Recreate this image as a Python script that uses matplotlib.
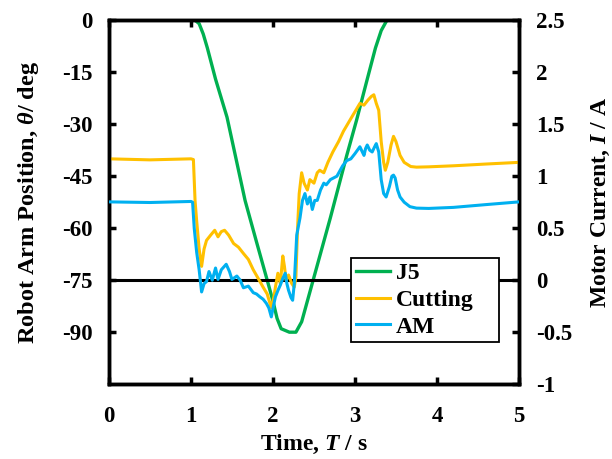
import matplotlib
matplotlib.use("Agg")
import matplotlib.pyplot as plt
from matplotlib.ticker import FuncFormatter

plt.rcParams['font.family'] = ['Liberation Serif', 'DejaVu Serif']
plt.rcParams['font.weight'] = 'bold'
plt.rcParams['axes.unicode_minus'] = False
plt.rcParams['mathtext.fontset'] = 'custom'
plt.rcParams['mathtext.it'] = 'Liberation Serif:italic:bold'
plt.rcParams['mathtext.rm'] = 'Liberation Serif:bold'

# J5 joint position (deg)
j5_t = [0, 1.05, 1.10, 1.15, 1.20, 1.30, 1.44, 1.66, 1.80, 1.93, 2.00, 2.05, 2.10,
        2.20, 2.28, 2.35, 2.49, 2.70, 2.90, 3.02, 3.15, 3.25, 3.32, 3.39, 5.0]
j5_deg = [0, 0, -1, -4, -8, -17, -28, -52, -64, -75, -81, -86, -89,
          -90, -90, -87, -75, -57, -39, -28.8, -17, -8, -3, 0, 0]

# Cutting motor current (A)
cut_t = [0, 0.5, 1.0, 1.03, 1.05, 1.07, 1.10, 1.13, 1.16, 1.19,
         1.24, 1.29, 1.33, 1.37, 1.41, 1.46, 1.52, 1.58, 1.64, 1.70,
         1.76, 1.82, 1.88, 1.93, 1.98, 2.01, 2.03, 2.06, 2.09, 2.12,
         2.14, 2.16, 2.19, 2.23, 2.26, 2.28, 2.30, 2.32, 2.35, 2.38,
         2.42, 2.45, 2.50, 2.54, 2.57, 2.62, 2.67, 2.73, 2.80, 2.86,
         2.91, 2.96, 3.01, 3.06, 3.11, 3.16, 3.20, 3.23, 3.26, 3.29,
         3.32, 3.35, 3.37, 3.40, 3.44, 3.47, 3.50, 3.55, 3.60, 3.68,
         3.75, 3.90, 4.20, 4.60, 5.0]
cut_amp = [1.167, 1.157, 1.167, 1.160, 0.767, 0.567, 0.300, 0.133, 0.300, 0.383,
           0.433, 0.480, 0.417, 0.467, 0.480, 0.433, 0.353, 0.317, 0.257, 0.200,
           0.100, 0.017, -0.067, -0.133, -0.267, -0.167, -0.067, 0.067, -0.033, 0.233,
           0.133, 0.0, 0.05, -0.033, -0.067, 0.033, 0.5, 0.833, 1.033, 0.933,
           0.867, 0.967, 0.933, 1.033, 1.057, 1.033, 1.133, 1.233, 1.333, 1.433,
           1.5, 1.567, 1.633, 1.7, 1.683, 1.733, 1.767, 1.783, 1.7, 1.633,
           1.333, 1.133, 1.057, 1.133, 1.3, 1.383, 1.333, 1.2, 1.133, 1.093,
           1.087, 1.09, 1.1, 1.117, 1.133]

# AM motor current (A)
am_t = [0, 0.5, 1.0, 1.02, 1.04, 1.07, 1.10, 1.13, 1.16, 1.19,
        1.22, 1.26, 1.30, 1.33, 1.37, 1.43, 1.47, 1.50, 1.56, 1.60,
        1.64, 1.70, 1.76, 1.80, 1.84, 1.88, 1.92, 1.95, 1.98, 2.01,
        2.03, 2.06, 2.09, 2.12, 2.15, 2.17, 2.19, 2.22, 2.24, 2.26,
        2.29, 2.33, 2.36, 2.39, 2.42, 2.45, 2.48, 2.51, 2.54, 2.58,
        2.62, 2.65, 2.70, 2.78, 2.85, 2.90, 2.95, 3.00, 3.03, 3.06,
        3.09, 3.11, 3.13, 3.15, 3.18, 3.21, 3.24, 3.26, 3.29, 3.32,
        3.35, 3.38, 3.42, 3.45, 3.47, 3.49, 3.52, 3.55, 3.60, 3.67,
        3.75, 3.90, 4.20, 4.60, 5.0]
am_amp = [0.753, 0.747, 0.757, 0.75, 0.5, 0.267, 0.1, -0.113, -0.033, -0.013,
          0.083, 0.0, 0.117, 0.007, 0.1, 0.153, 0.083, 0.007, 0.04, 0.0,
          -0.073, -0.057, -0.12, -0.133, -0.16, -0.183, -0.223, -0.267, -0.353, -0.233,
          -0.16, -0.1, -0.047, 0.017, 0.067, -0.033, -0.097, -0.167, -0.193, -0.033,
          0.433, 0.6, 0.767, 0.833, 0.733, 0.8, 0.68, 0.767, 0.767, 0.867,
          0.933, 0.917, 0.967, 1.0, 1.1, 1.15, 1.167, 1.217, 1.25, 1.283,
          1.233, 1.2, 1.267, 1.3, 1.25, 1.233, 1.283, 1.313, 1.233, 0.967,
          0.833, 0.8, 0.9, 1.0, 1.01, 0.983, 0.867, 0.8, 0.75, 0.707,
          0.693, 0.69, 0.7, 0.727, 0.753]

fig = plt.figure(figsize=(6.12, 4.59), dpi=100)
ax1 = fig.add_axes([0.178, 0.163, 0.670, 0.793])
ax2 = ax1.twinx()

# zero-current reference line
ax2.axhline(0, color='black', lw=2.2, zorder=1)

l1, = ax1.plot(j5_t, j5_deg, color='#00B050', lw=2.4, label='J5')
l2, = ax2.plot(cut_t, cut_amp, color='#FFC000', lw=2.2, label='Cutting', zorder=2)
l3, = ax2.plot(am_t, am_amp, color='#00B0F0', lw=2.2, label='AM', zorder=3)

ax1.set_xlim(0, 5)
ax1.set_ylim(-105, 0)
ax1.set_yticks([0, -15, -30, -45, -60, -75, -90])
ax1.set_xticks([0, 1, 2, 3, 4, 5])
ax2.set_ylim(-1, 2.5)
ax2.set_yticks([2.5, 2, 1.5, 1, 0.5, 0, -0.5, -1])
ax2.yaxis.set_major_formatter(FuncFormatter(lambda v, p: f"{v:g}"))

fs = 16.5
ax1.tick_params(axis='x', direction='in', top=True, length=5, width=2.5,
                labelsize=fs, pad=16)
ax1.tick_params(axis='y', direction='in', length=5, width=2.5, labelsize=fs, pad=12)
ax2.tick_params(axis='y', direction='in', length=5, width=2.5, labelsize=fs, pad=12)

for ax in (ax1, ax2):
    for s in ax.spines.values():
        s.set_linewidth(2.5)

ax1.set_xlabel(r"Time, $T$ / s", fontsize=17, fontweight='bold', labelpad=4)
ax1.set_ylabel(r"Robot Arm Position, $\theta$/ deg", fontsize=17.5, fontweight='bold',
               labelpad=15)
ax2.set_ylabel(r"Motor Current, $I$ / A", fontsize=17, fontweight='bold', labelpad=13)

leg = ax2.legend(handles=[l1, l2, l3], loc='lower left',
                 bbox_to_anchor=(0.590, 0.115, 0.362, 0.236), mode='expand',
                 borderaxespad=0, fancybox=False, framealpha=1, edgecolor='black',
                 prop={'family': 'Liberation Serif', 'weight': 'bold', 'size': 17},
                 handlelength=1.45, handletextpad=0.25, labelspacing=0.22,
                 borderpad=0.2)
leg.get_frame().set_linewidth(1.3)
leg.set_zorder(5)

fig.savefig("out.png", dpi=100)
